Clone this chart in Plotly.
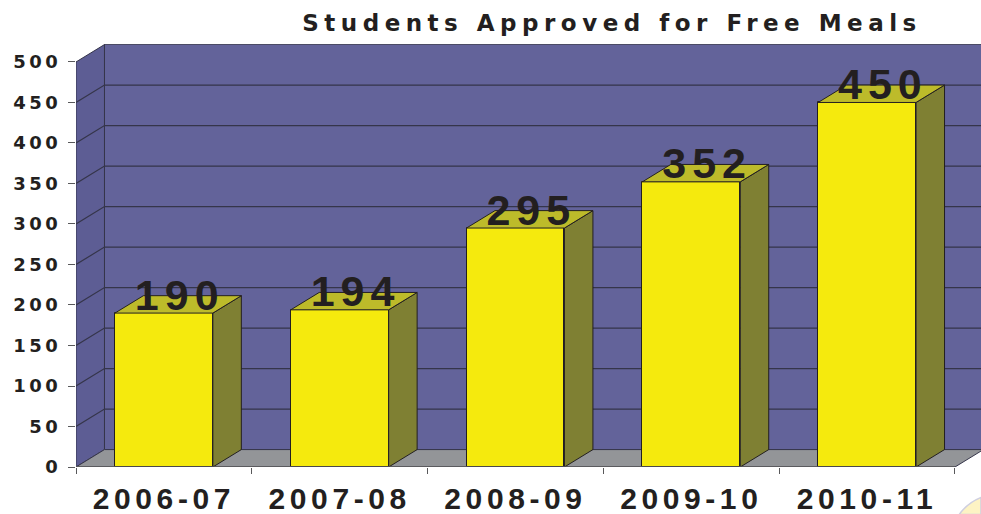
import plotly.graph_objects as go

# ---- data ----
categories = ["2006-07", "2007-08", "2008-09", "2009-10", "2010-11"]
values = [190, 194, 295, 352, 450]
heights = [190, 194, 295, 352, 450]
y_ticks = [0, 50, 100, 150, 200, 250, 300, 350, 400, 450, 500]
title_text = "Students Approved for Free Meals"

# ---- style / geometry ----
WALL = "#63639a"
SIDE_WALL = "#5d5d94"
FLOOR = "#939598"
FRONT = "#f5ea0d"
SIDE = "#7f8033"
TOP = "#bdbb2a"
INK = "#231f20"
GRID = "#35354a"
DX, DY = 0.162, 21.5       # depth of the 3-D box in data units
BAR_W = 0.557
X0, X_END = -0.5, 4.5
X_HI = 4.648
Y_HI = 522.2
DIGITS = "DejaVu Sans"
ARIAL = "Liberation Sans"


def poly(points):
    return "M " + " L ".join(f"{x} {y}" for x, y in points) + " Z"


shapes = []


def add_poly(points, fill, line=GRID, width=1):
    shapes.append(dict(type="path", path=poly(points), xref="x", yref="y", layer="below",
                       fillcolor=fill, line=dict(color=line, width=width)))


add_poly([(X0 + DX, DY), (X_END + DX, DY), (X_END + DX, Y_HI - 0.3), (X0 + DX, Y_HI - 0.3)], WALL)
add_poly([(X0, 0), (X0 + DX, DY), (X0 + DX, 500 + DY), (X0, 500)], SIDE_WALL)
add_poly([(X0, 0), (X_END, 0), (X_END + DX, DY), (X0 + DX, DY)], FLOOR)
for t in y_ticks[1:-1]:
    shapes.append(dict(type="path", layer="below", xref="x", yref="y",
                       path=f"M {X0} {t} L {X0 + DX} {t + DY} L {X_END + DX} {t + DY}",
                       line=dict(color=GRID, width=1.2)))

# pale printed swirl clipped by the bottom right corner of the page
shapes.append(dict(type="path", xref="paper", yref="paper", layer="above",
                   path="M 0.976 -0.112 Q 0.985 -0.085 1 -0.072 L 1 -0.112 Z",
                   fillcolor="#fdf3c4", line=dict(color="#cfcfe0", width=1.5)))

fig = go.Figure()
xs = list(range(len(categories)))

fig.add_trace(go.Bar(x=xs, y=heights, width=BAR_W, marker=dict(color=FRONT, line=dict(color=INK, width=1)),
                     showlegend=False, hoverinfo="skip"))

for x, h in zip(xs, heights):
    l, r = x - BAR_W / 2, x + BAR_W / 2
    fig.add_trace(go.Scatter(x=[r, r + DX, r + DX, r, r], y=[0, DY, h + DY, h, 0], mode="lines", fill="toself",
                             fillcolor=SIDE, line=dict(color=INK, width=1), showlegend=False, hoverinfo="skip"))
    fig.add_trace(go.Scatter(x=[l, r, r + DX, l + DX, l], y=[h, h, h + DY, h + DY, h], mode="lines", fill="toself",
                             fillcolor=TOP, line=dict(color=INK, width=1), showlegend=False, hoverinfo="skip"))

# front edge of the floor
fig.add_trace(go.Scatter(x=[X0, X_END], y=[0, 0], mode="lines", line=dict(color="#58585a", width=1.5),
                         showlegend=False, hoverinfo="skip", cliponaxis=False))

fig.add_trace(go.Scatter(x=[x + 0.09 for x in xs], y=[h - 9 for h in heights], mode="text",
                         text=[str(v) for v in values],
                         textposition="top center", textfont=dict(family=ARIAL, size=43, color=INK, weight="bold"),
                         showlegend=False, hoverinfo="skip", cliponaxis=False))

fig.update_layout(
    width=981, height=514,
    margin=dict(l=75.5, r=0, t=44, b=47, pad=0),
    paper_bgcolor="white", plot_bgcolor="white",
    shapes=shapes, bargap=0,
    title=dict(text=f"<b>{title_text}</b>", x=612 / 981, xanchor="center", y=0.955, yanchor="middle",
               font=dict(family=DIGITS, size=23, color=INK)),
    xaxis=dict(range=[X0, X_HI], tickmode="array", tickvals=xs, ticktext=categories,
               ticks="", showgrid=False, zeroline=False, showline=False, ticklabelstandoff=11,
               tickfont=dict(family=ARIAL, size=30, color=INK, weight="bold"),
               minor=dict(tickmode="array", tickvals=[i - 0.5 for i in range(6)], ticks="outside", ticklen=6,
                          tickcolor="#58585a", tickwidth=1, showgrid=False)),
    yaxis=dict(range=[0, Y_HI], tickmode="array", tickvals=y_ticks, ticks="outside", ticklen=7, tickcolor="#58585a",
               tickwidth=1, showgrid=False, zeroline=False, showline=False, ticklabelstandoff=3,
               tickfont=dict(family=DIGITS, size=18, color=INK, weight="bold")),
)

post = """
document.body.style.margin = '0';
var sp = function (sel, v) { document.querySelectorAll(sel).forEach(function (t) { t.style.letterSpacing = v; }); };
sp('.xtick text', '4.6px');
sp('.ytick text', '3.5px');
sp('.gtitle', '5.5px');
sp('.textpoint text', '6px');
"""
fig.write_html("out.html", post_script=post, config={"displayModeBar": False})
